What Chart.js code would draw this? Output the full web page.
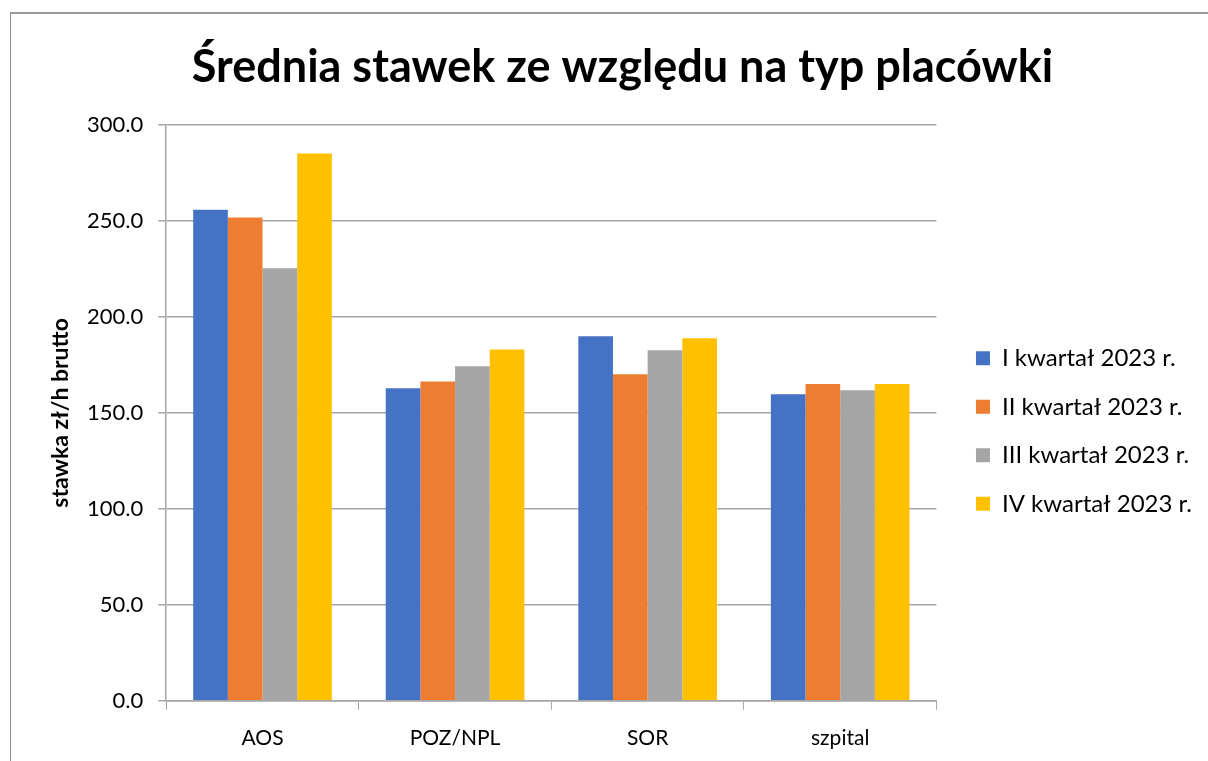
<!DOCTYPE html>
<html>
<head>
<meta charset="utf-8">
<script src="https://cdn.jsdelivr.net/npm/chart.js@4"></script>
<style>
  body { margin: 0; background: #fff; }
  #frame { position: absolute; left: 10px; top: 12px; width: 1300px; height: 800px; border: 1px solid #8c8c8c; border-top: 2px solid #9a9a9a; }
  #wrap { position: absolute; left: 0; top: 0; width: 1208px; height: 761px; }
</style>
</head>
<body>
<div id="frame"></div>
<div id="wrap"><canvas id="chart"></canvas></div>
<script>
  // categories and series
  const placowki = ['AOS', 'POZ/NPL', 'SOR', 'szpital'];
  const kwartal1 = [255.9, 162.9, 190.0, 159.7];
  const kwartal2 = [251.8, 166.3, 170.2, 165.0];
  const kwartal3 = [225.4, 174.3, 182.7, 161.8];
  const kwartal4 = [285.1, 183.0, 188.9, 165.0];
  const seriesNames = ['I kwartał 2023 r.', 'II kwartał 2023 r.', 'III kwartał 2023 r.', 'IV kwartał 2023 r.'];
  const colors = ['#4472C4', '#ED7D31', '#A5A5A5', '#FFC000'];

  const font = 'Lato, "Open Sans", sans-serif';
  const gridColor = '#a6a6a6';

  const ctx = document.getElementById('chart').getContext('2d');
  new Chart(ctx, {
    type: 'bar',
    data: {
      labels: placowki,
      datasets: [kwartal1, kwartal2, kwartal3, kwartal4].map((vals, i) => ({
        label: seriesNames[i],
        data: vals,
        backgroundColor: colors[i],
        categoryPercentage: 0.72,
        barPercentage: 1.0
      }))
    },
    options: {
      responsive: true,
      maintainAspectRatio: false,
      animation: false,
      layout: { padding: { top: 40, left: 43, right: 6, bottom: -6 } },
      plugins: {
        title: {
          display: true,
          text: 'Średnia stawek ze względu na typ placówki',
          color: '#000',
          font: { family: font, size: 45, weight: 'bold' },
          padding: { top: 0, bottom: 31 }
        },
        legend: {
          position: 'right',
          // empty title only pushes the items down a bit
          title: { display: true, text: '', font: { size: 1 }, padding: { top: 54, bottom: 0 } },
          labels: {
            color: '#000',
            font: { family: font, size: 24 },
            boxWidth: 14,
            boxHeight: 14,
            padding: 24.5
          }
        },
        tooltip: { enabled: false }
      },
      scales: {
        x: {
          grid: { drawOnChartArea: false, color: gridColor, tickLength: 9 },
          border: { color: gridColor, width: 1.5 },
          ticks: { color: '#000', font: { family: font, size: 21 }, padding: 16 }
        },
        y: {
          min: 0,
          max: 300,
          grid: { color: gridColor, lineWidth: 1.5, tickLength: 8 },
          border: { color: gridColor, width: 1.5 },
          ticks: {
            stepSize: 50,
            color: '#000',
            font: { family: font, size: 22 },
            padding: 15,
            callback: v => v.toFixed(1)
          },
          title: {
            display: true,
            text: 'stawka zł/h brutto',
            color: '#000',
            font: { family: font, size: 23, weight: 'bold', lineHeight: 1 },
            padding: { top: 6, bottom: 0 }
          }
        },
        // hidden spacer between plot area and legend
        gap: {
          position: 'right',
          display: false,
          afterFit: s => { s.width = 15; }
        }
      }
    }
  });
</script>
</body>
</html>
